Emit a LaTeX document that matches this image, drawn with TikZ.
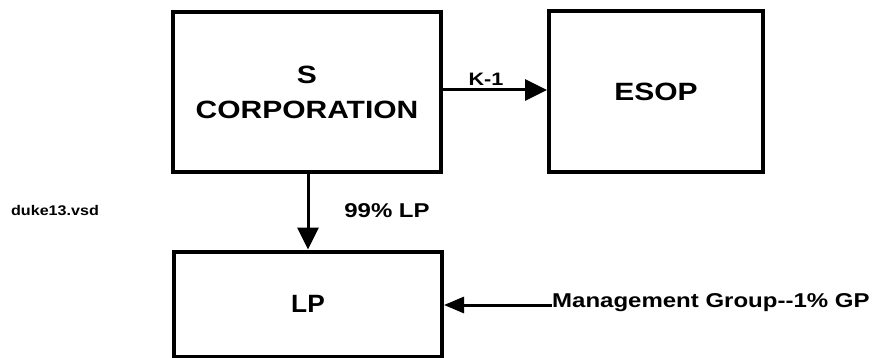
\documentclass[tikz,border=0pt]{standalone}
\usepackage{fontspec}
\setmainfont{Liberation Sans}
\usetikzlibrary{arrows.meta}
\newcommand{\wtxt}[2][1.2]{\scalebox{#1}[1]{#2}}
\tikzset{
  box/.style={draw=black, line width=4pt, fill=white, inner sep=0pt, align=center, font=\bfseries\fontsize{25}{35}\selectfont},
  conn/.style={line width=3pt, -{Triangle[length=22pt,width=21pt]}},
  lbl/.style={inner sep=0pt, font=\bfseries\fontsize{20}{24}\selectfont}
}
\begin{document}
\begin{tikzpicture}[x=1pt,y=-1pt]
\useasboundingbox (0,0) rectangle (880,358);
\fill[white] (0,0) rectangle (880,358);
\node[box, minimum width=268pt, minimum height=160pt] (scorp) at (307,92) {\wtxt{S}\\\wtxt{CORPORATION}};
\node[box, minimum width=214pt, minimum height=161pt] (esop) at (656,91.5) {\wtxt{ESOP}};
\node[box, minimum width=268pt, minimum height=105pt] (lp) at (308,304) {\wtxt[1.05]{LP}};
\node[lbl, font=\bfseries\fontsize{18}{20}\selectfont] (k1) at (486,79) {\wtxt{K-1}};
\node[lbl] (pct) at (387,211) {\wtxt{99\% LP}};
\node[lbl, anchor=west] (mg) at (552,303) {\wtxt{Management Group-{}-1\% GP}};
\node[inner sep=0pt, font=\bfseries\fontsize{14}{16}\selectfont] (duke) at (55,211) {\wtxt[1.15]{duke13.vsd}};
\draw[conn] (scorp.east |- 0,90) -- (esop.west |- 0,90);
\draw[conn] (scorp.south -| 308,0) -- (lp.north -| 308,0);
\draw[conn, -{Triangle[length=20pt,width=16pt]}] (mg.west |- 0,305) -- (lp.east |- 0,305);
\end{tikzpicture}
\end{document}
